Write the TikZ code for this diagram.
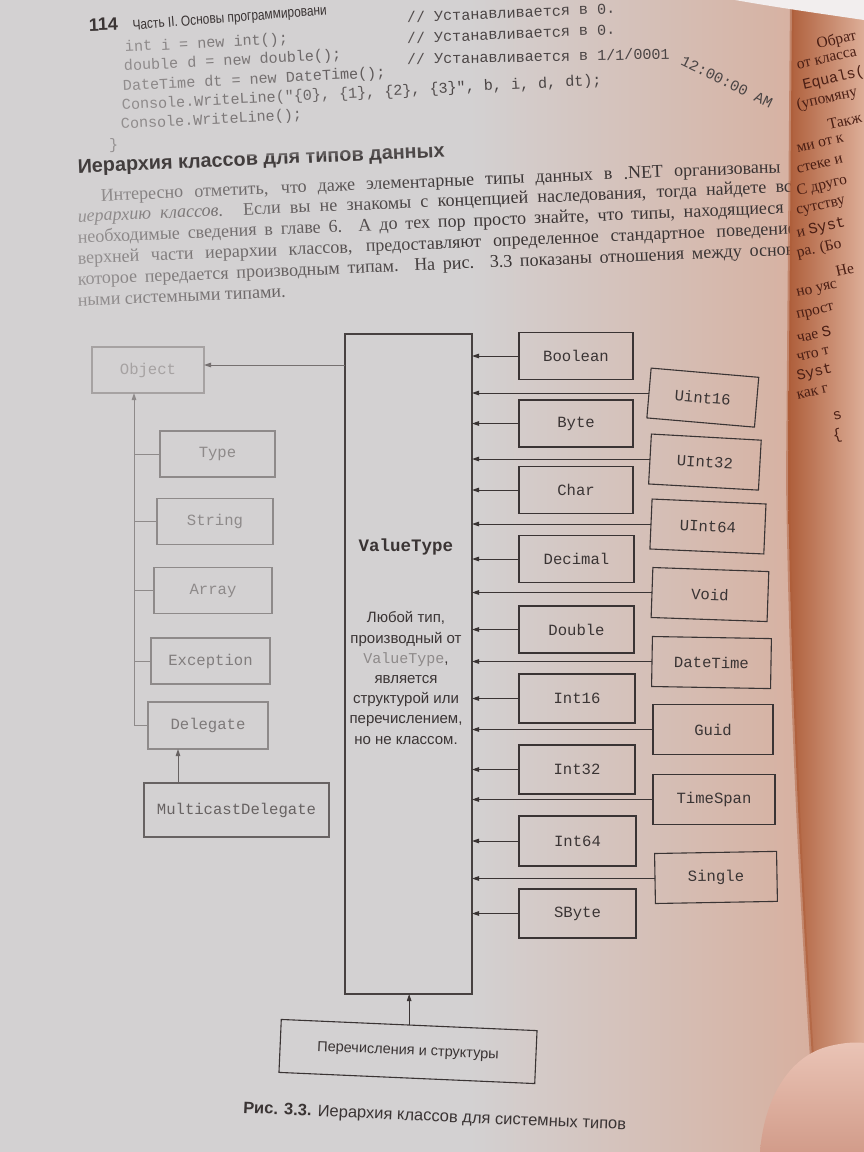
\documentclass[tikz,border=0pt]{standalone}
\usepackage{fontspec}
\setmainfont{Liberation Serif}
\newfontfamily\sansf{Liberation Sans}
\newfontfamily\sansnarrow[FakeStretch=0.82]{Liberation Sans}
\newfontfamily\monof{Liberation Mono}
\usetikzlibrary{arrows.meta,calc,fadings}

% page and ink colours
\definecolor{pageL}{HTML}{D3D1D2}
\definecolor{pageM}{HTML}{DCCDC8}
\definecolor{pageR}{HTML}{D7AF9E}
\definecolor{rpageA}{HTML}{AE5E3A}
\definecolor{rpageB}{HTML}{D39878}
\definecolor{rpageC}{HTML}{DDAE98}
\definecolor{ink}{HTML}{3A3434}
\definecolor{codeink}{HTML}{4A4444}
\definecolor{inkfaint}{HTML}{8E8A8A}
\definecolor{inkpale}{HTML}{A6A2A2}
\definecolor{inkmid}{HTML}{676262}
\definecolor{rink}{HTML}{4A1E14}
\definecolor{skinA}{HTML}{EAC4B6}
\definecolor{skinB}{HTML}{D29C8A}
\definecolor{glare}{HTML}{F2EEEE}

\newcommand\dmono{\monof\fontsize{15.6}{18}\selectfont}
\newcommand\codefont{\monof\fontsize{15.1}{17}\selectfont}
\newcommand\notefont{\sansf\fontsize{15}{20.2}\selectfont}
\newcommand\parafont{\fontsize{18}{21}\selectfont}
\newcommand\rpfont{\fontsize{15.5}{17}\selectfont}

\tikzset{
  diagbox/.style={draw=ink, line width=1.1pt, inner sep=0pt, minimum height=47pt,
    font=\dmono, text=ink},
  leftbox/.style={diagbox, draw=inkfaint, text=inkfaint, minimum height=46pt},
  outerbox/.style={diagbox, anchor=west, minimum height=50pt},
  arr/.style={-{Triangle[length=7pt,width=4.5pt]}, line width=1pt, draw=ink},
  link/.style={line width=1pt, draw=inkfaint},
  codeline/.style={anchor=west, font=\codefont, text=codeink},
  paraline/.style={anchor=base west, font=\parafont, text=ink, rotate=2.4},
  rtext/.style={anchor=west, font=\rpfont, text=rink, rotate=13},
}

\begin{document}
\begin{tikzpicture}[x=1pt, y=-1pt, every node/.style={inner sep=0pt, outer sep=0pt}]
\useasboundingbox (0,0) rectangle (864,1152);
\clip (0,0) rectangle (864,1152);

% ---------- left page ----------
\fill[pageL] (0,0) rectangle (470,1152);
\shade[left color=pageL, middle color=pageM, right color=pageR] (469,0) rectangle (820,1152);

% running head
\node[anchor=base west, font=\sansf\bfseries\fontsize{18}{20}\selectfont, text=ink, rotate=2]
  (pgno) at (89,31) {114};
\node[anchor=base west, font=\sansnarrow\fontsize{14.5}{17}\selectfont, text=ink, rotate=4.5]
  (runhead) at (133,30) {Часть II. Основы программировани};

% code listing
\node[codeline, rotate=3] (c1) at (125,48) {int i = new int();};
\node[codeline, rotate=3] (c2) at (124,67) {double d = new double();};
\node[codeline, rotate=3] (c3) at (123,87) {DateTime dt = new DateTime();};
\node[codeline, rotate=3] (c4) at (122,106) {Console.WriteLine("\{0\}, \{1\}, \{2\}, \{3\}", b, i, d, dt);};
\node[codeline, rotate=3] (c5) at (121,125) {Console.WriteLine();};
\node[codeline] (c6) at (109,146) {\}};
\node[codeline, rotate=2.5] (k1) at (407,17) {// Устанавливается в 0.};
\node[codeline, rotate=2.5] (k2) at (407,38) {// Устанавливается в 0.};
\node[codeline, rotate=1.2] (k3) at (407,59) {// Устанавливается в 1/1/0001};
\node[codeline, rotate=-26] (k4) at (682,60) {12:00:00 AM};

% section heading and paragraph
\node[anchor=base west, font=\sansf\bfseries\fontsize{19.8}{22}\selectfont, text=ink!90!inkfaint, rotate=2.5]
  (head) at (78,173) {Иерархия классов для типов данных};
\node[paraline] (p1) at (101,201) {\hbox to 700pt{Интересно отметить, что даже элементарные типы данных в .NET организованы в}};
\node[paraline] (p2) at (78,222) {\hbox to 723pt{\textit{иерархию классов}. Если вы не знакомы с концепцией наследования, тогда найдете все}};
\node[paraline] (p3) at (78,243) {\hbox to 723pt{необходимые сведения в главе 6. А до тех пор просто знайте, что типы, находящиеся в}};
\node[paraline] (p4) at (78,264) {\hbox to 723pt{верхней части иерархии классов, предоставляют определенное стандартное поведение,}};
\node[paraline] (p5) at (78,285) {\hbox to 723pt{которое передается производным типам. На рис. 3.3 показаны отношения между основ-}};
\node[paraline] (p6) at (78,306) {ными системными типами.};

% washed-out print towards the left edge
\fill[pageL, path fading=east, fill opacity=0.72] (0,38) -- (470,10) -- (470,156) -- (0,156) -- cycle;
\fill[pageL, path fading=east, fill opacity=0.72] (0,184) -- (470,166) -- (470,316) -- (0,316) -- cycle;

% ---------- diagram ----------
% left column (reference types)
\node[leftbox, draw=inkpale, text=inkpale, minimum width=112pt] (obj) at (148,370) {Object};
\node[leftbox, minimum width=115pt] (typ) at (217.5,454) {Type};
\node[leftbox, minimum width=116pt] (str) at (215,521.5) {String};
\node[leftbox, minimum width=118pt] (arry) at (213,590.5) {Array};
\node[leftbox, minimum width=119pt, text=inkfaint!85!ink] (exc) at (210.5,661) {Exception};
\node[leftbox, minimum width=120pt, text=inkfaint!80!ink, minimum height=47pt] (dlg) at (208,725.5) {Delegate};
\node[leftbox, draw=inkmid, text=inkmid, minimum width=185pt, minimum height=54pt] (mcd) at (236.5,810) {MulticastDelegate};

% ValueType block
\node[diagbox, draw=ink!85!inkfaint, minimum width=127pt, minimum height=660pt] (vt) at (408.5,664) {};
\node[font=\monof\bfseries\fontsize{17.5}{20}\selectfont, text=ink] (vtname) at (406,547) {ValueType};
\node[align=center, font=\notefont, text=ink] (vtnote) at (406,678)
  {Любой тип,\\производный от\\{\color{inkfaint}\monof ValueType},\\является\\структурой или\\перечислением,\\но не классом.};

% inner column of structures
\node[diagbox, minimum width=114pt] (bool)  at (576,356)   {Boolean};
\node[diagbox, minimum width=114pt] (byte)  at (576,423.5) {Byte};
\node[diagbox, minimum width=114pt] (char)  at (576,490)   {Char};
\node[diagbox, minimum width=115pt] (dec)   at (576.5,559) {Decimal};
\node[diagbox, minimum width=115pt] (dbl)   at (576.5,629.5) {Double};
\node[diagbox, minimum width=116pt, minimum height=49pt] (i16) at (577,698.5) {Int16};
\node[diagbox, minimum width=116pt, minimum height=49pt] (i32) at (577,769.5) {Int32};
\node[diagbox, minimum width=117pt, minimum height=50pt] (i64) at (577.5,841) {Int64};
\node[diagbox, minimum width=117pt, minimum height=49pt] (sbyte) at (577.5,913.5) {SByte};

% outer column of structures
\node[outerbox, minimum width=108pt, rotate=-4.9] (u16)  at (649,393)   {Uint16};
\node[outerbox, minimum width=110pt, rotate=-3.2] (u32)  at (650,459)   {UInt32};
\node[outerbox, minimum width=114pt, rotate=-2.5] (u64)  at (651,524)   {UInt64};
\node[outerbox, minimum width=116pt, rotate=-2]   (void) at (652,592.5) {Void};
\node[outerbox, minimum width=119pt, rotate=-1]   (dt)   at (652,661.5) {DateTime};
\node[outerbox, minimum width=120pt]              (guid) at (653,729.5) {Guid};
\node[outerbox, minimum width=122pt]              (ts)   at (653,799.5) {TimeSpan};
\node[outerbox, minimum width=122pt, rotate=1]    (sgl)  at (655,878.5) {Single};

% enumerations and structures
\node[diagbox, minimum width=256pt, minimum height=53pt, rotate=-2.5,
      font=\sansf\fontsize{14.5}{17}\selectfont] (en) at (408,1051.5) {Перечисления и структуры};

% connectors
\coordinate (objin) at ($(obj.east)+(0,-5)$);
\draw[arr, draw=inkfaint!70!ink] (vt.west |- objin) -- (objin);
\coordinate (trunktop) at ($(obj.south west)+(42,0)$);
\draw[arr, draw=inkfaint] (dlg.west) -| (trunktop);
\foreach \b in {typ,str,arry,exc} \draw[link] (\b.west) -- (\b.west -| trunktop);
\coordinate (mctop) at ($(mcd.north west)+(34,0)$);
\draw[arr, draw=inkmid] (mctop) -- (mctop |- dlg.south);
\foreach \b in {bool,byte,char,dec,dbl,i16,i32,i64,sbyte,u16,u32,u64,void,dt,guid,ts,sgl}
  \draw[arr] (\b.west) -- (\b.west -| vt.east);
\draw[arr] (en.north) -- (en.north |- vt.south);

% caption
\node[anchor=base west, rotate=-2.5, font=\sansf\fontsize{16.5}{19}\selectfont, text=ink]
  (cap) at (243,1113) {\textbf{Рис. 3.3.} Иерархия классов для системных типов};

% ---------- facing page ----------
\shade[left color=rpageA, middle color=rpageB, right color=rpageC]
  (792,0) -- (788,480) .. controls (792,750) and (805,950) .. (818,1152) -- (864,1152) -- (864,0) -- cycle;
\draw[line width=4pt, draw=rpageA, opacity=0.5]
  (792,0) -- (788,480) .. controls (792,750) and (805,950) .. (818,1152);
\begin{scope}
  \clip (792,0) -- (788,480) .. controls (792,750) and (805,950) .. (818,1152) -- (864,1152) -- (864,0) -- cycle;
  \node[rtext] (r1)  at (817,45)  {Обрат};
  \node[rtext] (r2)  at (797,66)  {от класса};
  \node[rtext, font=\monof\fontsize{15}{17}\selectfont] (r3) at (803,86) {Equals(};
  \node[rtext] (r4)  at (797,106) {(упомяну};
  \node[rtext] (r5)  at (828,125) {Такж};
  \node[rtext] (r6)  at (797,149) {ми от к};
  \node[rtext] (r7)  at (797,170) {стеке и};
  \node[rtext] (r8)  at (797,192) {С друго};
  \node[rtext] (r9)  at (797,213) {сутству};
  \node[rtext] (r10) at (797,234) {и {\monof Syst}};
  \node[rtext] (r11) at (797,254) {ра. (Бо};
  \node[rtext] (r12) at (836,272) {Не};
  \node[rtext] (r13) at (797,295) {но уяс};
  \node[rtext] (r14) at (797,317) {прост};
  \node[rtext] (r15) at (797,338) {чае {\monof S}};
  \node[rtext] (r16) at (797,358) {что т};
  \node[rtext, font=\monof\fontsize{15}{17}\selectfont] (r17) at (797,377) {Syst};
  \node[rtext] (r18) at (797,396) {как г};
  \node[rtext, font=\monof\fontsize{15}{17}\selectfont] (r19) at (833,417) {s};
  \node[rtext, font=\monof\fontsize{15}{17}\selectfont] (r20) at (833,437) {\{};
\end{scope}

% light glare at the top corner
\fill[glare] (735,0) -- (864,0) -- (864,20) .. controls (830,15) and (780,8) .. (735,0) -- cycle;

% fingertip holding the book
\shade[top color=skinA, bottom color=skinB]
  (760,1152) .. controls (764,1100) and (788,1058) .. (826,1047)
  .. controls (844,1042) and (858,1042) .. (864,1043) -- (864,1152) -- cycle;
\end{tikzpicture}
\end{document}
